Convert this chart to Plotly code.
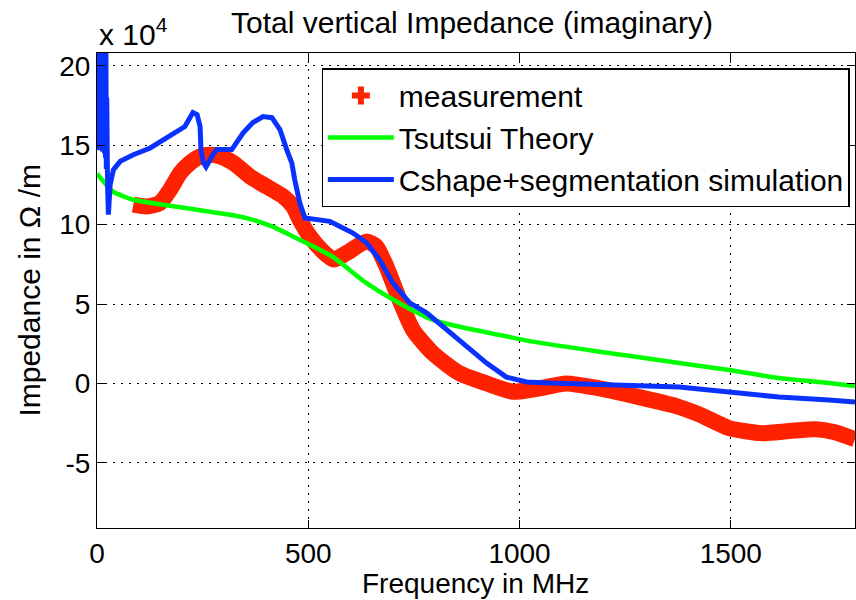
import plotly.graph_objects as go

# ---- data (impedance in units of 1e4 Ohm/m, frequency in MHz) ----
meas_freq = [86, 118, 149, 173, 197, 220, 244, 268, 291, 323, 362, 401, 441, 464, 480,
             504, 535, 560, 590, 638, 661, 685, 716, 748, 795, 858, 921, 984, 1047, 1110,
             1189, 1283, 1371, 1425, 1496, 1574, 1638, 1702, 1744, 1794]
meas_imp = [11.25, 11.14, 11.36, 12.19, 13.25, 13.88, 14.29, 14.40, 14.29, 13.88, 13.03,
            12.40, 11.77, 11.14, 10.30, 9.25, 8.30, 7.80, 8.20, 8.93, 8.62, 7.36, 5.26,
            3.37, 1.90, 0.64, 0.01, -0.52, -0.31, 0.0, -0.31, -0.86, -1.43, -1.95, -2.81,
            -3.13, -3.00, -2.88, -3.06, -3.51]

theory_freq = [0, 38, 86, 156, 237, 315, 369, 417, 464, 512, 559, 638, 716, 795, 874,
               953, 1031, 1189, 1378, 1496, 1614, 1732, 1794]
theory_imp = [13.2, 12.07, 11.56, 11.25, 10.93, 10.62, 10.30, 9.85, 9.25, 8.62, 7.95,
              6.31, 5.05, 4.0, 3.47, 3.05, 2.63, 2.0, 1.29, 0.84, 0.34, 0.03, -0.16]

sim_freq = [0, 1, 2, 3, 4, 5, 6, 7, 8, 9, 10, 11, 12, 13, 14, 15, 16, 17, 18, 19, 20,
            21, 22, 23, 25, 27, 31, 39, 55, 86, 126, 165, 197, 208, 227, 237,
            244, 246, 252, 258, 272, 283, 319, 331, 346, 369, 393, 414, 433, 449, 461,
            468, 480, 492, 520, 551, 575, 605, 638, 669, 700, 740, 780, 827, 875, 922,
            969, 1017, 1071, 1189, 1378, 1496, 1614, 1732, 1794]
sim_imp = [14.9, 24, 14.8, 24, 15, 24, 14.7, 24, 15.2, 24, 14.8, 24, 15, 24, 14.6, 24,
           14.9, 24, 14.5, 24, 14.2, 22, 13.5, 18, 12.5, 10.62, 12.5, 13.46, 13.98,
           14.40, 14.82, 15.45,
           15.98, 16.17, 17.05, 16.92, 16.17, 14.72, 13.88, 13.63, 14.29, 14.72, 14.72,
           15.24, 15.77, 16.42, 16.80, 16.73, 15.98, 14.72, 13.88, 12.82, 11.36, 10.41,
           10.30, 10.20, 9.88, 9.48, 8.85, 7.78, 6.33, 5.07, 4.44, 3.37, 2.29, 1.28, 0.40,
           0.09, 0.03, -0.10, -0.23, -0.54, -0.86, -1.05, -1.17]

x_ticks = [0, 500, 1000, 1500]
x_labels = ['0', '500', '1000', '1500']
y_ticks = [-5, 0, 5, 10, 15, 20]
y_labels = ['-5', '0', '5', '10', '15', '20']

RED = '#ff2200'
GREEN = '#00ff00'
BLUE = '#0a32ff'
FONT = 'Liberation Sans, Arial, Helvetica, sans-serif'
FS = 30

fig = go.Figure()
fig.add_trace(go.Scatter(x=meas_freq, y=meas_imp, mode='lines',
                         line=dict(color=RED, width=16, shape='spline', smoothing=0.6),
                         showlegend=False, legendgroup='m'))
fig.add_trace(go.Scatter(x=[None], y=[None], mode='markers', name='measurement',
                         marker=dict(symbol='cross', size=15, color=RED),
                         legendgroup='m'))
fig.add_trace(go.Scatter(x=theory_freq, y=theory_imp, mode='lines', name='Tsutsui Theory',
                         line=dict(color=GREEN, width=4.5, shape='spline', smoothing=0.5),
                         legendgroup='t'))
fig.add_trace(go.Scatter(x=sim_freq, y=sim_imp, mode='lines',
                         name='Cshape+segmentation simulation',
                         line=dict(color=BLUE, width=5), legendgroup='s'))

axis_common = dict(showline=True, linecolor='black', linewidth=1.2, mirror='ticks',
                   ticks='inside', ticklen=8, tickwidth=1.2, tickcolor='black',
                   showgrid=True, gridcolor='black', gridwidth=1, griddash='2px,6px',
                   zeroline=False, tickfont=dict(size=28, color='black', family=FONT))

fig.update_xaxes(range=[0, 1794], tickvals=x_ticks, ticktext=x_labels, **axis_common)
fig.update_yaxes(range=[-9.1, 20.8], tickvals=y_ticks, ticktext=y_labels, **axis_common)

fig.update_layout(
    width=856, height=600,
    margin=dict(l=97, r=1, t=53, b=72, pad=0),
    paper_bgcolor='white', plot_bgcolor='white',
    font=dict(family=FONT, size=FS, color='black'),
    title=dict(text='Total vertical Impedance (imaginary)', x=0.5514, xref='container',
               xanchor='center', y=0.9633, yref='container', yanchor='middle',
               font=dict(size=FS, family=FONT, color='black')),
    legend=dict(x=0.2964, y=0.9676, xanchor='left', yanchor='top', bordercolor='black',
                borderwidth=1.2, bgcolor='white', font=dict(size=FS, family=FONT),
                itemwidth=66, tracegroupgap=0),
    annotations=[
        dict(text='Impedance in Ω /m', textangle=-90, xref='paper', yref='paper',
             x=-0.0896, y=0.5, xanchor='center', yanchor='middle', showarrow=False,
             font=dict(size=FS, family=FONT)),
        dict(text='Frequency in MHz', xref='paper', yref='paper', x=0.4993, y=-0.116,
             xanchor='center', yanchor='middle', showarrow=False,
             font=dict(size=28, family=FONT)),
        dict(text='x 10<sup>4</sup>', xref='paper', yref='paper', x=0.0, y=1.0,
             xanchor='left', yanchor='bottom', showarrow=False,
             font=dict(size=FS, family=FONT)),
    ],
)

fig.write_html('out.html')
